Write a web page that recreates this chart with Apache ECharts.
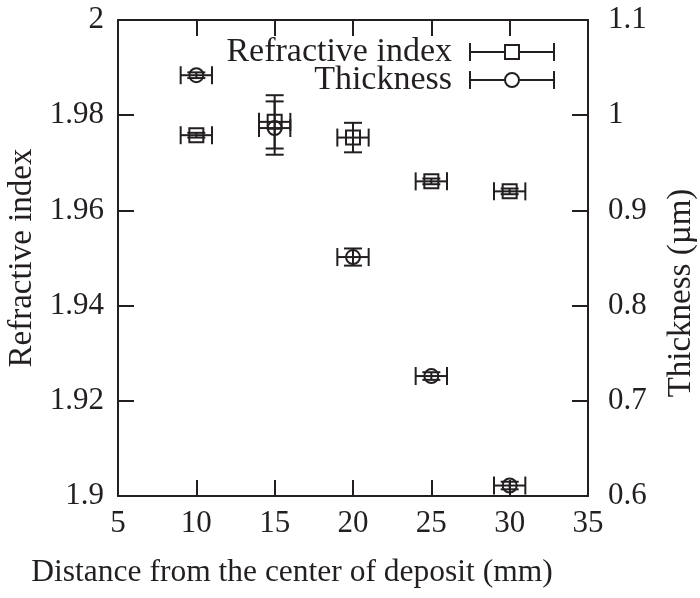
<!DOCTYPE html>
<html>
<head>
<meta charset="utf-8">
<script src="https://cdn.jsdelivr.net/npm/echarts@6/dist/echarts.min.js"></script>
<style>html,body{margin:0;padding:0;background:#fff}#c{width:700px;height:598px}</style>
</head>
<body>
<div id="c"></div>
<script>
// Data
var distance = [10, 15, 20, 25, 30];
var distanceErr = [1, 1, 1, 1, 1];
var refractiveIndex = [1.9758, 1.9786, 1.9753, 1.9661, 1.9640];
var refractiveErr = [0.0005, 0.0056, 0.0031, 0.0006, 0.0006];
var thickness = [1.042, 0.9865, 0.851, 0.726, 0.611];
var thicknessErr = [0.003, 0.028, 0.009, 0.004, 0.004];
var xTicks = [5, 10, 15, 20, 25, 30, 35];
var leftTicks = [1.9, 1.92, 1.94, 1.96, 1.98, 2];
var rightTicks = [0.6, 0.7, 0.8, 0.9, 1, 1.1];

var INK = '#231f20';
var FONT = 'Liberation Serif';
var FS = 31;
var LFS = 34;

function rows(ys, yerr) {
  return distance.map(function (x, i) { return [x, ys[i], distanceErr[i], yerr[i]]; });
}

function makeRender(shape) {
  return function (params, api) {
    var x = api.value(0), y = api.value(1), xe = api.value(2), ye = api.value(3);
    var c = api.coord([x, y]);
    var l = api.coord([x - xe, y]), r = api.coord([x + xe, y]);
    var t = api.coord([x, y + ye]), b = api.coord([x, y - ye]);
    var cap = 9;
    var st = { stroke: INK, lineWidth: 2, fill: null };
    var ch = [
      { type: 'line', shape: { x1: l[0], y1: c[1], x2: r[0], y2: c[1] }, style: st },
      { type: 'line', shape: { x1: l[0], y1: c[1] - cap, x2: l[0], y2: c[1] + cap }, style: st },
      { type: 'line', shape: { x1: r[0], y1: c[1] - cap, x2: r[0], y2: c[1] + cap }, style: st },
      { type: 'line', shape: { x1: c[0], y1: t[1], x2: c[0], y2: b[1] }, style: st },
      { type: 'line', shape: { x1: c[0] - cap, y1: t[1], x2: c[0] + cap, y2: t[1] }, style: st },
      { type: 'line', shape: { x1: c[0] - cap, y1: b[1], x2: c[0] + cap, y2: b[1] }, style: st }
    ];
    if (shape === 'square') {
      ch.push({ type: 'rect', shape: { x: c[0] - 7, y: c[1] - 7, width: 14, height: 14 }, style: st });
    } else {
      ch.push({ type: 'circle', shape: { cx: c[0], cy: c[1], r: 7 }, style: st });
    }
    return { type: 'group', children: ch };
  };
}

function fmt2(v) { return String(parseFloat(v.toFixed(2))); }

var labelStyle = { color: INK, fontFamily: FONT, fontSize: FS };
var tickStyle = { show: true, inside: true, length: 16, lineStyle: { color: INK, width: 2 } };
var lineStyle = { show: true, lineStyle: { color: INK, width: 2 } };

var chart = echarts.init(document.getElementById('c'), null, { renderer: 'canvas' });

function legendItem(y, label, shape) {
  var st = { stroke: INK, lineWidth: 2, fill: null };
  var items = [
    { type: 'text', x: 452, y: y, style: { text: label, fill: INK, font: LFS + 'px "' + FONT + '"', textAlign: 'right', textVerticalAlign: 'middle' } },
    { type: 'line', shape: { x1: 470, y1: y, x2: 554, y2: y }, style: st },
    { type: 'line', shape: { x1: 470, y1: y - 9, x2: 470, y2: y + 9 }, style: st },
    { type: 'line', shape: { x1: 554, y1: y - 9, x2: 554, y2: y + 9 }, style: st }
  ];
  if (shape === 'square') {
    items.push({ type: 'rect', shape: { x: 505, y: y - 7, width: 14, height: 14 }, style: { stroke: INK, lineWidth: 2, fill: '#fff' } });
  } else {
    items.push({ type: 'circle', shape: { cx: 512, cy: y, r: 7 }, style: { stroke: INK, lineWidth: 2, fill: '#fff' } });
  }
  return items;
}

chart.setOption({
  backgroundColor: '#fff',
  animation: false,
  grid: { left: 118, right: 112, top: 20, bottom: 102, containLabel: false, outerBoundsMode: 'none' },
  xAxis: [{
    type: 'value', min: xTicks[0], max: xTicks[xTicks.length - 1], interval: 5,
    position: 'bottom',
    axisLine: lineStyle, axisTick: tickStyle, splitLine: { show: false },
    axisLabel: Object.assign({ margin: 12 }, labelStyle),
    name: 'Distance from the center of deposit (mm)',
    nameLocation: 'middle', nameGap: 61,
    nameTextStyle: { color: INK, fontFamily: FONT, fontSize: 31.5, padding: [0, 122, 0, 0] }
  }, {
    type: 'value', min: xTicks[0], max: xTicks[xTicks.length - 1], interval: 5,
    position: 'top',
    axisLine: lineStyle, axisTick: tickStyle, splitLine: { show: false },
    axisLabel: { show: false }
  }],
  yAxis: [{
    type: 'value', min: leftTicks[0], max: leftTicks[leftTicks.length - 1], interval: 0.02,
    position: 'left',
    axisLine: lineStyle, axisTick: tickStyle, splitLine: { show: false },
    axisLabel: Object.assign({ margin: 14, formatter: fmt2 }, labelStyle),
    name: 'Refractive index', nameLocation: 'middle', nameGap: 69, nameRotate: 90,
    nameTextStyle: { color: INK, fontFamily: FONT, fontSize: 33 }
  }, {
    type: 'value', min: rightTicks[0], max: rightTicks[rightTicks.length - 1], interval: 0.1,
    position: 'right',
    axisLine: lineStyle, axisTick: tickStyle, splitLine: { show: false },
    axisLabel: Object.assign({ margin: 20, formatter: function (v) { return String(parseFloat(v.toFixed(1))); } }, labelStyle),
    name: 'Thickness (\u00b5m)', nameLocation: 'middle', nameGap: 77, nameRotate: 90,
    nameTextStyle: { color: INK, fontFamily: FONT, fontSize: 33, padding: [0, 70, 0, 0] }
  }],
  series: [{
    name: 'Refractive index', type: 'custom', xAxisIndex: 0, yAxisIndex: 0,
    renderItem: makeRender('square'), data: rows(refractiveIndex, refractiveErr),
    clip: false
  }, {
    name: 'Thickness', type: 'custom', xAxisIndex: 0, yAxisIndex: 1,
    renderItem: makeRender('circle'), data: rows(thickness, thicknessErr),
    clip: false
  }],
  graphic: legendItem(52, 'Refractive index', 'square').concat(legendItem(80, 'Thickness', 'circle'))
});
</script>
</body>
</html>
